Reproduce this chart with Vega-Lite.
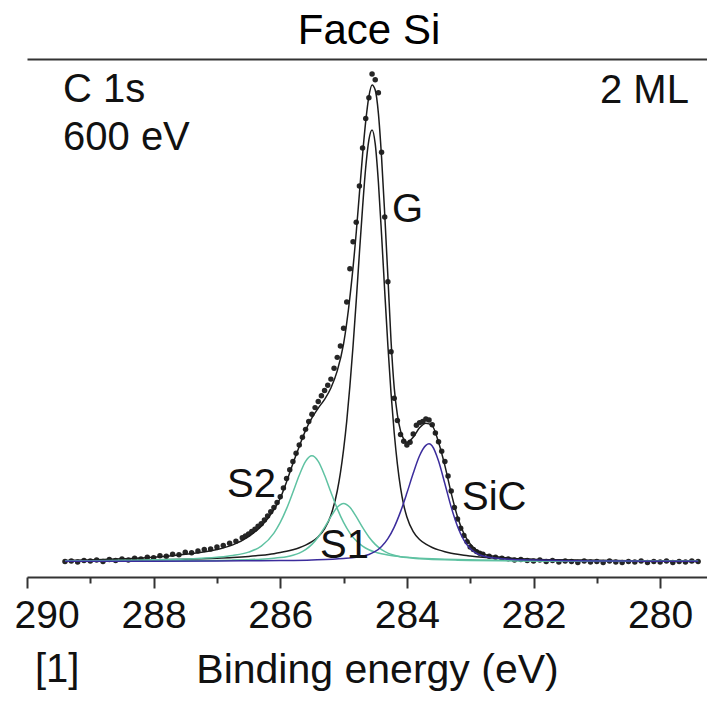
{
  "$schema": "https://vega.github.io/schema/vega-lite/v6.json",
  "width": 680,
  "height": 518,
  "autosize": {"type": "none"},
  "padding": {"left": 27, "top": 59, "right": 0, "bottom": 124},
  "background": "white",
  "config": {"view": {"stroke": null}, "font": "Liberation Sans"},
  "resolve": {"axis": {"x": "independent"}},
  "datasets": {
    "pts": [
      {"E":289.4,"I":3.0},{"E":289.3,"I":3.1},{"E":289.2,"I":2.9},{"E":289.1,"I":3.2},{"E":289.0,"I":3.1},
      {"E":288.9,"I":3.3},{"E":288.8,"I":3.0},{"E":288.7,"I":3.4},{"E":288.6,"I":3.2},{"E":288.5,"I":3.5},
      {"E":288.4,"I":3.3},{"E":288.3,"I":3.6},{"E":288.2,"I":3.5},{"E":288.1,"I":3.8},{"E":288.0,"I":3.7},
      {"E":287.9,"I":4.1},{"E":287.8,"I":4.0},{"E":287.7,"I":4.4},{"E":287.6,"I":4.3},{"E":287.5,"I":4.8},
      {"E":287.4,"I":4.7},{"E":287.3,"I":5.0},{"E":287.2,"I":5.3},{"E":287.1,"I":5.4},{"E":287.0,"I":5.8},
      {"E":286.9,"I":6.1},{"E":286.8,"I":6.5},{"E":286.7,"I":6.9},{"E":286.6,"I":7.6},{"E":286.55,"I":7.9},
      {"E":286.5,"I":8.3},{"E":286.45,"I":8.8},{"E":286.4,"I":9.2},{"E":286.35,"I":9.8},{"E":286.3,"I":10.3},
      {"E":286.25,"I":11.0},{"E":286.2,"I":11.8},{"E":286.15,"I":12.6},{"E":286.1,"I":13.4},{"E":286.05,"I":14.4},
      {"E":286.0,"I":15.5},{"E":285.95,"I":17.2},{"E":285.9,"I":19.0},{"E":285.85,"I":20.7},{"E":285.8,"I":22.3},
      {"E":285.75,"I":23.9},{"E":285.7,"I":25.5},{"E":285.65,"I":27.0},{"E":285.6,"I":28.5},{"E":285.55,"I":30.0},
      {"E":285.5,"I":31.4},{"E":285.45,"I":32.7},{"E":285.4,"I":33.9},{"E":285.35,"I":35.0},{"E":285.3,"I":36.0},
      {"E":285.25,"I":37.0},{"E":285.2,"I":38.2},{"E":285.15,"I":40.3},{"E":285.1,"I":42.4},{"E":285.05,"I":44.6},
      {"E":285.0,"I":48.0},{"E":284.95,"I":53.1},{"E":284.9,"I":59.5},{"E":284.85,"I":64.7},{"E":284.8,"I":68.5},
      {"E":284.75,"I":75.5},{"E":284.7,"I":82.8},{"E":284.65,"I":88.5},{"E":284.6,"I":92.5},{"E":284.55,"I":97.1},
      {"E":284.5,"I":96.0},{"E":284.45,"I":93.5},{"E":284.4,"I":82.0},{"E":284.35,"I":69.5},{"E":284.3,"I":57.0},
      {"E":284.25,"I":43.5},{"E":284.2,"I":34.5},{"E":284.15,"I":30.2},{"E":284.1,"I":27.5},{"E":284.05,"I":26.2},
      {"E":284.0,"I":25.5},{"E":283.95,"I":26.0},{"E":283.9,"I":27.6},{"E":283.85,"I":29.3},{"E":283.8,"I":29.8},
      {"E":283.75,"I":30.0},{"E":283.7,"I":30.5},{"E":283.65,"I":30.3},{"E":283.6,"I":29.4},{"E":283.55,"I":27.8},
      {"E":283.5,"I":26.1},{"E":283.45,"I":24.3},{"E":283.4,"I":22.3},{"E":283.35,"I":19.5},{"E":283.3,"I":16.6},
      {"E":283.25,"I":13.4},{"E":283.2,"I":11.2},{"E":283.15,"I":9.4},{"E":283.1,"I":8.0},{"E":283.05,"I":6.8},
      {"E":283.0,"I":5.8},{"E":282.95,"I":5.3},{"E":282.9,"I":4.9},{"E":282.85,"I":4.6},{"E":282.8,"I":4.4},
      {"E":282.7,"I":4.0},{"E":282.6,"I":3.8},{"E":282.5,"I":3.6},{"E":282.4,"I":3.5},{"E":282.3,"I":3.3},
      {"E":282.2,"I":3.4},{"E":282.1,"I":3.2},{"E":282.0,"I":3.1},{"E":281.9,"I":3.3},{"E":281.8,"I":3.0},
      {"E":281.7,"I":3.2},{"E":281.6,"I":2.9},{"E":281.5,"I":3.1},{"E":281.4,"I":3.0},{"E":281.3,"I":2.8},
      {"E":281.2,"I":3.1},{"E":281.1,"I":2.9},{"E":281.0,"I":3.0},{"E":280.9,"I":2.8},{"E":280.8,"I":3.1},
      {"E":280.7,"I":2.9},{"E":280.6,"I":2.8},{"E":280.5,"I":3.0},{"E":280.4,"I":2.9},{"E":280.3,"I":3.1},
      {"E":280.2,"I":2.8},{"E":280.1,"I":3.0},{"E":280.0,"I":2.9},{"E":279.9,"I":3.1},{"E":279.8,"I":2.8},
      {"E":279.7,"I":3.0},{"E":279.6,"I":2.9},{"E":279.5,"I":3.1},{"E":279.4,"I":3.0}
    ],
    "fit": [
      {"c":"Total","E":289.4,"I":3.2},{"c":"Total","E":289.0,"I":3.3},{"c":"Total","E":288.5,"I":3.5},{"c":"Total","E":288.0,"I":3.8},
      {"c":"Total","E":287.5,"I":4.4},{"c":"Total","E":287.0,"I":5.3},{"c":"Total","E":286.75,"I":6.2},{"c":"Total","E":286.5,"I":7.8},
      {"c":"Total","E":286.3,"I":9.8},{"c":"Total","E":286.1,"I":13.0},{"c":"Total","E":286.0,"I":15.2},{"c":"Total","E":285.9,"I":18.4},
      {"c":"Total","E":285.8,"I":21.9},{"c":"Total","E":285.7,"I":25.2},{"c":"Total","E":285.6,"I":28.3},{"c":"Total","E":285.5,"I":30.7},
      {"c":"Total","E":285.4,"I":32.6},{"c":"Total","E":285.3,"I":34.3},{"c":"Total","E":285.2,"I":36.5},{"c":"Total","E":285.1,"I":39.8},
      {"c":"Total","E":285.0,"I":45.0},{"c":"Total","E":284.9,"I":54.0},{"c":"Total","E":284.8,"I":66.5},{"c":"Total","E":284.75,"I":74.0},
      {"c":"Total","E":284.7,"I":81.5},{"c":"Total","E":284.65,"I":88.0},{"c":"Total","E":284.6,"I":92.8},{"c":"Total","E":284.55,"I":95.0},
      {"c":"Total","E":284.5,"I":94.0},{"c":"Total","E":284.45,"I":89.5},{"c":"Total","E":284.4,"I":81.0},{"c":"Total","E":284.35,"I":70.0},
      {"c":"Total","E":284.3,"I":58.0},{"c":"Total","E":284.25,"I":45.5},{"c":"Total","E":284.2,"I":36.5},{"c":"Total","E":284.15,"I":31.3},
      {"c":"Total","E":284.1,"I":28.2},{"c":"Total","E":284.05,"I":26.6},{"c":"Total","E":284.0,"I":26.0},{"c":"Total","E":283.9,"I":27.0},
      {"c":"Total","E":283.8,"I":28.8},{"c":"Total","E":283.7,"I":29.7},{"c":"Total","E":283.6,"I":29.2},{"c":"Total","E":283.5,"I":26.0},
      {"c":"Total","E":283.4,"I":21.5},{"c":"Total","E":283.3,"I":16.2},{"c":"Total","E":283.2,"I":11.6},{"c":"Total","E":283.1,"I":8.4},
      {"c":"Total","E":283.0,"I":6.4},{"c":"Total","E":282.9,"I":5.2},{"c":"Total","E":282.8,"I":4.5},{"c":"Total","E":282.5,"I":3.8},
      {"c":"Total","E":282.0,"I":3.4},{"c":"Total","E":281.5,"I":3.25},{"c":"Total","E":281.0,"I":3.15},{"c":"Total","E":280.5,"I":3.1},
      {"c":"Total","E":280.0,"I":3.05},{"c":"Total","E":279.4,"I":3.0},

      {"c":"G","E":289.4,"I":3.16},{"c":"G","E":289.0,"I":3.19},{"c":"G","E":288.5,"I":3.24},{"c":"G","E":288.0,"I":3.31},
      {"c":"G","E":287.5,"I":3.43},{"c":"G","E":287.0,"I":3.62},{"c":"G","E":286.75,"I":3.76},{"c":"G","E":286.5,"I":3.96},
      {"c":"G","E":286.3,"I":4.19},{"c":"G","E":286.1,"I":4.5},{"c":"G","E":286.0,"I":4.71},{"c":"G","E":285.9,"I":4.96},
      {"c":"G","E":285.8,"I":5.27},{"c":"G","E":285.7,"I":5.65},{"c":"G","E":285.6,"I":6.15},{"c":"G","E":285.5,"I":6.82},
      {"c":"G","E":285.4,"I":7.78},{"c":"G","E":285.3,"I":9.29},{"c":"G","E":285.2,"I":11.93},{"c":"G","E":285.1,"I":16.6},
      {"c":"G","E":285.05,"I":20.1},{"c":"G","E":285.0,"I":24.6},{"c":"G","E":284.95,"I":30.1},{"c":"G","E":284.9,"I":36.9},
      {"c":"G","E":284.85,"I":44.65},{"c":"G","E":284.8,"I":53.3},{"c":"G","E":284.75,"I":62.5},{"c":"G","E":284.7,"I":71.3},
      {"c":"G","E":284.65,"I":79.1},{"c":"G","E":284.6,"I":84.4},{"c":"G","E":284.55,"I":86.3},{"c":"G","E":284.5,"I":83.6},
      {"c":"G","E":284.45,"I":76.2},{"c":"G","E":284.4,"I":66.1},{"c":"G","E":284.35,"I":55.1},{"c":"G","E":284.3,"I":44.65},
      {"c":"G","E":284.25,"I":35.4},{"c":"G","E":284.2,"I":27.8},{"c":"G","E":284.15,"I":21.8},{"c":"G","E":284.1,"I":17.2},
      {"c":"G","E":284.05,"I":13.9},{"c":"G","E":284.0,"I":11.59},{"c":"G","E":283.9,"I":8.75},{"c":"G","E":283.8,"I":7.25},
      {"c":"G","E":283.7,"I":6.33},{"c":"G","E":283.6,"I":5.7},{"c":"G","E":283.5,"I":5.23},{"c":"G","E":283.4,"I":4.88},
      {"c":"G","E":283.3,"I":4.6},{"c":"G","E":283.2,"I":4.38},{"c":"G","E":283.1,"I":4.2},{"c":"G","E":283.0,"I":4.06},
      {"c":"G","E":282.8,"I":3.83},{"c":"G","E":282.5,"I":3.61},{"c":"G","E":282.0,"I":3.4},{"c":"G","E":281.5,"I":3.28},
      {"c":"G","E":281.0,"I":3.21},{"c":"G","E":280.5,"I":3.16},{"c":"G","E":280.0,"I":3.13},{"c":"G","E":279.4,"I":3.1},

      {"c":"S2","E":289.4,"I":3.13},{"c":"S2","E":289.0,"I":3.16},{"c":"S2","E":288.5,"I":3.21},{"c":"S2","E":288.0,"I":3.31},
      {"c":"S2","E":287.5,"I":3.47},{"c":"S2","E":287.0,"I":3.81},{"c":"S2","E":286.75,"I":4.15},{"c":"S2","E":286.5,"I":4.8},
      {"c":"S2","E":286.3,"I":5.96},{"c":"S2","E":286.1,"I":8.48},{"c":"S2","E":286.0,"I":10.54},{"c":"S2","E":285.9,"I":13.2},
      {"c":"S2","E":285.8,"I":16.36},{"c":"S2","E":285.7,"I":19.65},{"c":"S2","E":285.6,"I":22.33},{"c":"S2","E":285.5,"I":23.4},
      {"c":"S2","E":285.4,"I":22.33},{"c":"S2","E":285.3,"I":19.65},{"c":"S2","E":285.2,"I":16.36},{"c":"S2","E":285.1,"I":13.2},
      {"c":"S2","E":285.0,"I":10.54},{"c":"S2","E":284.9,"I":8.48},{"c":"S2","E":284.8,"I":6.99},{"c":"S2","E":284.7,"I":5.96},
      {"c":"S2","E":284.6,"I":5.26},{"c":"S2","E":284.5,"I":4.8},{"c":"S2","E":284.4,"I":4.47},{"c":"S2","E":284.3,"I":4.24},
      {"c":"S2","E":284.2,"I":4.06},{"c":"S2","E":284.1,"I":3.92},{"c":"S2","E":284.0,"I":3.81},{"c":"S2","E":283.8,"I":3.64},
      {"c":"S2","E":283.6,"I":3.52},{"c":"S2","E":283.4,"I":3.43},{"c":"S2","E":283.2,"I":3.36},{"c":"S2","E":283.0,"I":3.31},
      {"c":"S2","E":282.5,"I":3.21},{"c":"S2","E":282.0,"I":3.16},{"c":"S2","E":281.0,"I":3.1},{"c":"S2","E":280.0,"I":3.06},
      {"c":"S2","E":279.4,"I":3.05},

      {"c":"S1","E":289.4,"I":3.04},{"c":"S1","E":289.0,"I":3.05},{"c":"S1","E":288.5,"I":3.07},{"c":"S1","E":288.0,"I":3.09},
      {"c":"S1","E":287.5,"I":3.13},{"c":"S1","E":287.0,"I":3.2},{"c":"S1","E":286.75,"I":3.26},{"c":"S1","E":286.5,"I":3.35},
      {"c":"S1","E":286.3,"I":3.45},{"c":"S1","E":286.1,"I":3.62},{"c":"S1","E":286.0,"I":3.75},{"c":"S1","E":285.9,"I":3.93},
      {"c":"S1","E":285.8,"I":4.2},{"c":"S1","E":285.7,"I":4.62},{"c":"S1","E":285.6,"I":5.29},{"c":"S1","E":285.5,"I":6.3},
      {"c":"S1","E":285.4,"I":7.73},{"c":"S1","E":285.3,"I":9.57},{"c":"S1","E":285.2,"I":11.64},{"c":"S1","E":285.1,"I":13.45},
      {"c":"S1","E":285.0,"I":14.2},{"c":"S1","E":284.9,"I":13.45},{"c":"S1","E":284.8,"I":11.64},{"c":"S1","E":284.7,"I":9.57},
      {"c":"S1","E":284.6,"I":7.73},{"c":"S1","E":284.5,"I":6.3},{"c":"S1","E":284.4,"I":5.29},{"c":"S1","E":284.3,"I":4.62},
      {"c":"S1","E":284.2,"I":4.2},{"c":"S1","E":284.1,"I":3.93},{"c":"S1","E":284.0,"I":3.75},{"c":"S1","E":283.9,"I":3.62},
      {"c":"S1","E":283.8,"I":3.53},{"c":"S1","E":283.6,"I":3.4},{"c":"S1","E":283.4,"I":3.31},{"c":"S1","E":283.2,"I":3.25},
      {"c":"S1","E":283.0,"I":3.2},{"c":"S1","E":282.5,"I":3.13},{"c":"S1","E":282.0,"I":3.09},{"c":"S1","E":281.0,"I":3.05},
      {"c":"S1","E":280.0,"I":3.03},{"c":"S1","E":279.4,"I":3.03},

      {"c":"SiC","E":289.4,"I":3.03},{"c":"SiC","E":288.0,"I":3.06},{"c":"SiC","E":287.0,"I":3.1},{"c":"SiC","E":286.5,"I":3.13},
      {"c":"SiC","E":286.0,"I":3.19},{"c":"SiC","E":285.5,"I":3.3},{"c":"SiC","E":285.0,"I":3.56},{"c":"SiC","E":284.8,"I":3.79},
      {"c":"SiC","E":284.7,"I":4.0},{"c":"SiC","E":284.6,"I":4.34},{"c":"SiC","E":284.5,"I":4.93},{"c":"SiC","E":284.4,"I":5.9},
      {"c":"SiC","E":284.3,"I":7.42},{"c":"SiC","E":284.2,"I":9.64},{"c":"SiC","E":284.1,"I":12.62},{"c":"SiC","E":284.0,"I":16.2},
      {"c":"SiC","E":283.9,"I":20.02},{"c":"SiC","E":283.8,"I":23.4},{"c":"SiC","E":283.7,"I":25.4},{"c":"SiC","E":283.65,"I":25.7},
      {"c":"SiC","E":283.6,"I":25.3},{"c":"SiC","E":283.5,"I":22.4},{"c":"SiC","E":283.4,"I":18.0},{"c":"SiC","E":283.3,"I":13.49},
      {"c":"SiC","E":283.2,"I":9.76},{"c":"SiC","E":283.1,"I":7.12},{"c":"SiC","E":283.0,"I":5.48},{"c":"SiC","E":282.8,"I":4.05},
      {"c":"SiC","E":282.5,"I":3.52},{"c":"SiC","E":282.0,"I":3.26},{"c":"SiC","E":281.5,"I":3.16},{"c":"SiC","E":281.0,"I":3.1},
      {"c":"SiC","E":280.5,"I":3.07},{"c":"SiC","E":280.0,"I":3.06},{"c":"SiC","E":279.4,"I":3.04}
    ],
    "ann": [
      {"t":"C 1s","E":289.431,"I":91.7},
      {"t":"600 eV","E":289.431,"I":82.43},
      {"t":"2 ML","E":280.95,"I":91.51},
      {"t":"G","E":284.235,"I":68.53},
      {"t":"S2","E":286.841,"I":15.44},
      {"t":"S1","E":285.372,"I":3.67},
      {"t":"SiC","E":283.13,"I":12.93},
      {"t":"[1]","E":289.874,"I":-20.27}
    ],
    "ttl": [
      {"t":"Face Si","E":284.598,"I":102.9}
    ]
  },
  "layer": [
    {
      "data": {"name": "pts"},
      "mark": {"type": "circle", "size": 30, "color": "#262626", "opacity": 1},
      "encoding": {
        "x": {"field": "E", "type": "quantitative",
              "scale": {"domain": [290, 279.26], "nice": false, "zero": false},
              "axis": {"orient": "bottom", "values": [290, 288, 286, 284, 282, 280], "format": "d", "grid": false,
                       "domain": true, "domainColor": "#333333", "domainWidth": 2,
                       "ticks": true, "tickSize": 11, "tickWidth": 2, "tickColor": "#333333",
                       "labelFontSize": 39, "labelFont": "Liberation Sans", "labelColor": "#111111",
                       "labelBaseline": "alphabetic", "labelPadding": 39, "labelFlush": true, "labelFlushOffset": 13, "labelOverlap": false,
                       "title": "Binding energy (eV)", "titleFontSize": 41, "titleFont": "Liberation Sans", "titleFontWeight": "normal",
                       "titleColor": "#111111", "titleBaseline": "alphabetic", "titleX": 350, "titleY": 105}},
        "y": {"field": "I", "type": "quantitative",
              "scale": {"domain": [0, 100], "nice": false, "zero": false},
              "axis": {"orient": "left", "values": [0, 100], "grid": false, "domain": true, "domainColor": "#333333", "domainWidth": 2,
                       "ticks": true, "tickSize": 13, "tickWidth": 2, "tickColor": "#333333", "labels": false, "title": null}}
      }
    },
    {
      "data": {"name": "fit"},
      "mark": {"type": "line", "strokeWidth": 1.5, "interpolate": "monotone"},
      "encoding": {
        "x": {"field": "E", "type": "quantitative",
              "axis": {"orient": "bottom", "values": [289, 287, 285, 283, 281], "grid": false, "domain": false,
                       "ticks": true, "tickSize": 6, "tickWidth": 2, "tickColor": "#333333", "labels": false, "title": null}},
        "y": {"field": "I", "type": "quantitative", "axis": null},
        "color": {"field": "c", "type": "nominal", "legend": null,
                  "scale": {"domain": ["S2", "S1", "SiC", "G", "Total"], "range": ["#5fc2a2", "#5fc2a2", "#3b2c9c", "#1c1c1c", "#1c1c1c"]}},
        "order": {"field": "E", "type": "quantitative", "sort": "descending"}
      }
    },
    {
      "data": {"name": "ann"},
      "mark": {"type": "text", "align": "left", "baseline": "alphabetic", "fontSize": 40, "font": "Liberation Sans", "color": "#111111"},
      "encoding": {
        "x": {"field": "E", "type": "quantitative",
              "axis": {"orient": "top", "grid": false, "domain": true, "domainColor": "#333333", "domainWidth": 2,
                       "ticks": false, "labels": false, "title": null}},
        "y": {"field": "I", "type": "quantitative", "axis": null},
        "text": {"field": "t", "type": "nominal"}
      }
    },
    {
      "data": {"name": "ttl"},
      "mark": {"type": "text", "align": "center", "baseline": "alphabetic", "fontSize": 42, "font": "Liberation Sans", "color": "#000000"},
      "encoding": {
        "x": {"field": "E", "type": "quantitative", "axis": null},
        "y": {"field": "I", "type": "quantitative", "axis": null},
        "text": {"field": "t", "type": "nominal"}
      }
    }
  ]
}
